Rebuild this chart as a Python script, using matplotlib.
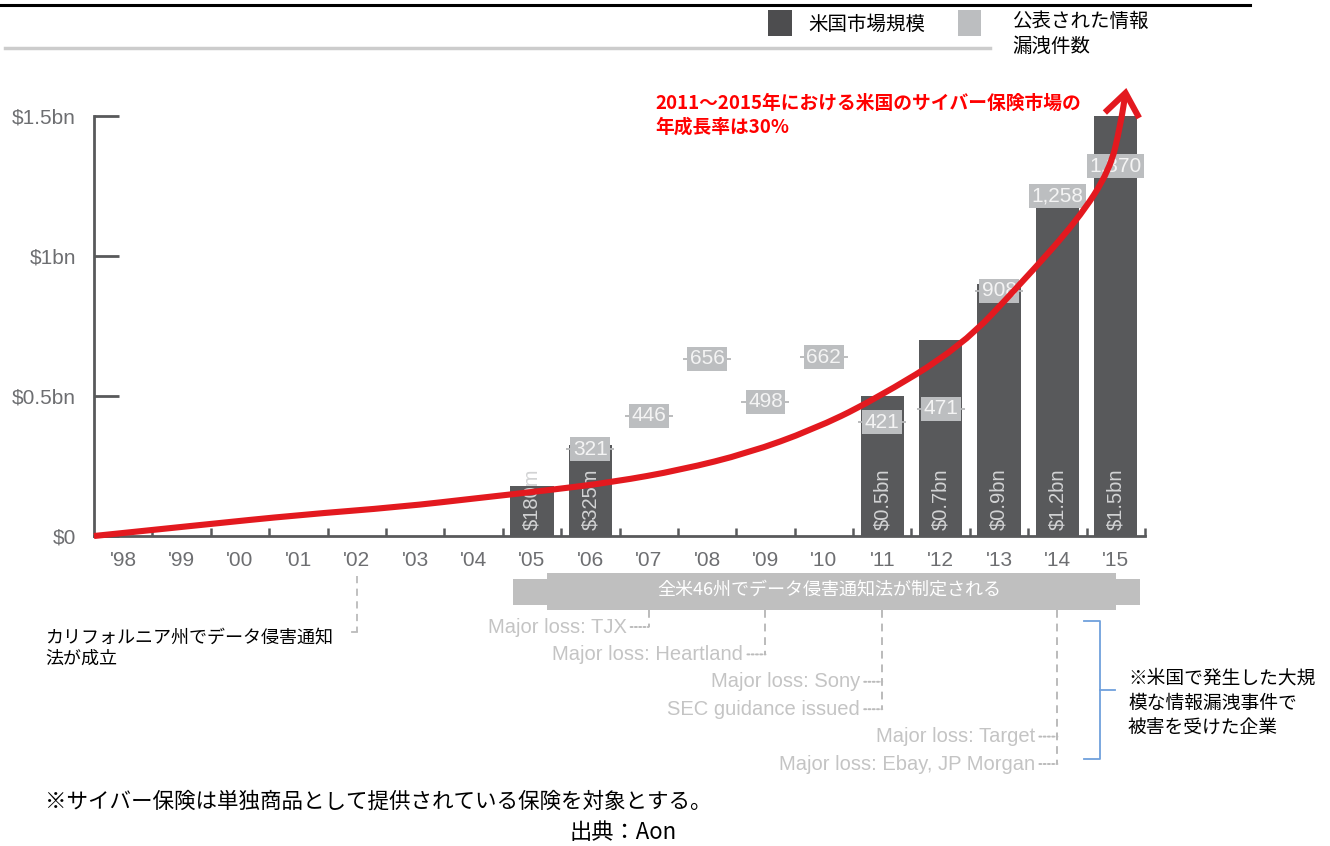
import matplotlib
matplotlib.use('Agg')
import matplotlib.pyplot as plt
from matplotlib.patches import Rectangle, FancyArrowPatch, ArrowStyle
from matplotlib.path import Path
from matplotlib.lines import Line2D

plt.rcParams['font.family'] = ['Noto Sans CJK JP', 'DejaVu Sans']
LATIN = ['Liberation Sans', 'DejaVu Sans']

# data
years = list(range(1998, 2016))
year_labels = ["'98", "'99", "'00", "'01", "'02", "'03", "'04", "'05", "'06",
               "'07", "'08", "'09", "'10", "'11", "'12", "'13", "'14", "'15"]

market_years = [2005, 2006, 2011, 2012, 2013, 2014, 2015]
market_size = [0.18, 0.325, 0.5, 0.7, 0.9, 1.2, 1.5]  # $bn
market_labels = ['$180m', '$325m', '$0.5bn', '$0.7bn', '$0.9bn', '$1.2bn', '$1.5bn']

breach_years = [2006, 2007, 2008, 2009, 2010, 2011, 2012, 2013, 2014, 2015]
breach_counts = [321, 446, 656, 498, 662, 421, 471, 908, 1258, 1370]

# hand drawn growth arrow
trend_x = [1997.5, 1999.3, 2001.0, 2002.75, 2004.1, 2005.3, 2006.4, 2007.55,
           2008.7, 2009.8, 2010.8, 2012.35, 2013.4, 2014.35, 2014.9, 2015.08, 2015.18]
trend_y = [0.0, 0.039, 0.075, 0.104, 0.136, 0.164, 0.193, 0.236,
           0.296, 0.379, 0.479, 0.675, 0.907, 1.129, 1.307, 1.468, 1.6]

event_labels = ['Major loss: TJX', 'Major loss: Heartland', 'Major loss: Sony',
                'SEC guidance issued', 'Major loss: Target', 'Major loss: Ebay, JP Morgan']
event_years = [2007, 2009, 2011, 2011, 2014, 2014]

DARK = '#58595b'
LIGHT = '#bcbec0'
RED = '#e3191f'

W, H = 1330, 846


def fx(px):
    return px / W


def fy(py):
    return 1 - py / H


def ay(py):
    # pixel row -> axes fraction (axis bottom at 536, 448 px tall)
    return (536 - py) / 448


fig = plt.figure(figsize=(13.3, 8.46), dpi=100)
ax = fig.add_axes([fx(94), fy(536), fx(1145) - fx(94), fy(88) - fy(536)])

ax.bar(market_years, market_size, width=0.74, color=DARK, zorder=2)
for x, v, lab in zip(market_years, market_size, market_labels):
    ax.text(x, 0.022, lab, rotation=90, ha='center', va='bottom',
            color='#d2d3d4', fontsize=14.5, family=LATIN, zorder=3)

ax.set_xlim(1997.5, 2015.5)
ax.set_ylim(0, 1.6)
ax.set_xticks(years)
ax.set_xticklabels(year_labels, family=LATIN, fontsize=15, color='#6d6e71')
ax.set_xticks([y + 0.5 for y in years], minor=True)
ax.tick_params(axis='x', which='major', length=0, pad=11)
ax.tick_params(axis='x', which='minor', direction='in', length=6, width=1.8, color=DARK)
ax.set_yticks([0, 0.5, 1, 1.5])
ax.set_yticklabels(['$0', '$0.5bn', '$1bn', '$1.5bn'], family=LATIN, fontsize=15,
                   color='#6d6e71')
ax.tick_params(axis='y', direction='in', length=18, width=2, color=DARK, pad=13)
for s in ['top', 'right']:
    ax.spines[s].set_visible(False)
for s in ['left', 'bottom']:
    ax.spines[s].set_color(DARK)
    ax.spines[s].set_linewidth(2)
ax.spines['left'].set_bounds(0, 1.5)

# breach counts on their own scale
ax2 = ax.twinx()
ax2.set_ylim(0, 1660)
ax2.axis('off')
ax2.plot(breach_years, breach_counts, ls='none', marker='_', ms=34, mew=1.3,
         color='#b5b6b8', zorder=3)
for x, c in zip(breach_years, breach_counts):
    ax2.text(x, c, f'{c:,}', ha='center', va='center', fontsize=15, family=LATIN,
             color='#f4f4f4', zorder=4,
             bbox=dict(boxstyle='square,pad=0.12', fc=LIGHT, ec='none'))

# red growth arrow
verts = [(trend_x[0], trend_y[0])]
codes = [Path.MOVETO]
for i in range(1, len(trend_x) - 1):
    verts += [(trend_x[i], trend_y[i]),
              ((trend_x[i] + trend_x[i + 1]) / 2, (trend_y[i] + trend_y[i + 1]) / 2)]
    codes += [Path.CURVE3, Path.CURVE3]
verts.append((trend_x[-1], trend_y[-1]))
codes.append(Path.LINETO)
arrow = FancyArrowPatch(path=Path(verts, codes), transform=ax.transData,
                        arrowstyle=ArrowStyle('->', head_length=0.65, head_width=0.5),
                        mutation_scale=25, lw=4.4, color=RED, zorder=10,
                        clip_on=False, capstyle='butt', joinstyle='miter')
ax2.add_patch(arrow)

fig.text(fx(655), fy(115), '2011～2015年における米国のサイバー保険市場の\n年成長率は30%',
         color='#ff0000', fontsize=13.5, fontweight='bold', ha='left', va='center',
         linespacing=1.35)

# law banner
xt = ax.get_xaxis_transform()
ax.add_patch(Rectangle((2004.67, ay(605)), 10.75, ay(579) - ay(605), transform=xt,
                       fc='#bfbfbf', ec='none', clip_on=False))
ax.add_patch(Rectangle((2005.25, ay(610)), 9.75, ay(573) - ay(610), transform=xt,
                       fc='#bfbfbf', ec='none', clip_on=False))
ax.text(2010.1, ay(590), '全米46州でデータ侵害通知法が制定される', transform=xt,
        ha='center', va='center', color='white', fontsize=13)

# California law
ax.plot([2002, 2002], [ay(576), ay(632)], transform=xt, clip_on=False,
        color='#bbbbbb', lw=1.3, ls=(0, (4, 3)))
ax.plot([2002, 2001.92], [ay(632), ay(632)], transform=xt, clip_on=False,
        color='#bbbbbb', lw=1.3)
fig.text(fx(45), fy(648), 'カリフォルニア州でデータ侵害通知\n法が成立', fontsize=13,
         ha='left', va='center', color='black', linespacing=1.25)

# breach events hanging off the banner
rows = [ay(627 + 27.4 * i) for i in range(len(event_labels))]
for yr in sorted(set(event_years)):
    low = min(r for r, e in zip(rows, event_years) if e == yr)
    ax.plot([yr, yr], [ay(610), low], transform=xt, clip_on=False,
            color='#bbbbbb', lw=1.4, ls=(0, (4, 3)))
for lab, yr, r in zip(event_labels, event_years, rows):
    ax.annotate(lab, xy=(yr, r), xycoords=xt, xytext=(-16, 0), textcoords='offset points',
                ha='right', va='center', fontsize=14.5, family=LATIN, color='#c4c4c4',
                annotation_clip=False,
                arrowprops=dict(arrowstyle='-', color='#bbbbbb', lw=1.4,
                                ls=(0, (1, 1.2)), shrinkA=1, shrinkB=0))

# blue bracket
fig.add_artist(Line2D([fx(1084), fx(1100), fx(1100), fx(1084)],
                      [fy(621), fy(621), fy(759), fy(759)], color='#6fa0dc', lw=1.3))
fig.add_artist(Line2D([fx(1100), fx(1115)], [fy(690), fy(690)], color='#6fa0dc', lw=1.3))
fig.text(fx(1128), fy(703), '※米国で発生した大規\n模な情報漏洩事件で\n被害を受けた企業',
         fontsize=13.5, ha='left', va='center', color='black', linespacing=1.25)

# legend and rules at the top
fig.add_artist(Line2D([0, fx(1250)], [fy(5), fy(5)], color='black', lw=2.2))
fig.add_artist(Line2D([fx(5), fx(990)], [fy(48), fy(48)], color='#cccccc', lw=2.5))
fig.add_artist(Rectangle((fx(768), fy(36)), fx(24), fy(10) - fy(36),
                         transform=fig.transFigure, fc='#4d4d4f', ec='none'))
fig.text(fx(808), fy(24), '米国市場規模', fontsize=14, ha='left', va='center')
fig.add_artist(Rectangle((fx(958), fy(36)), fx(23), fy(10) - fy(36),
                         transform=fig.transFigure, fc=LIGHT, ec='none'))
fig.text(fx(1012), fy(34), '公表された情報\n漏洩件数', fontsize=14, ha='left', va='center',
         linespacing=1.2)

# footnotes
fig.text(fx(45), fy(802), '※サイバー保険は単独商品として提供されている保険を対象とする。',
         fontsize=15.5, ha='left', va='center')
fig.text(fx(623), fy(832), '出典：Aon', fontsize=16, ha='center', va='center')

fig.savefig('out.png', dpi=100)
